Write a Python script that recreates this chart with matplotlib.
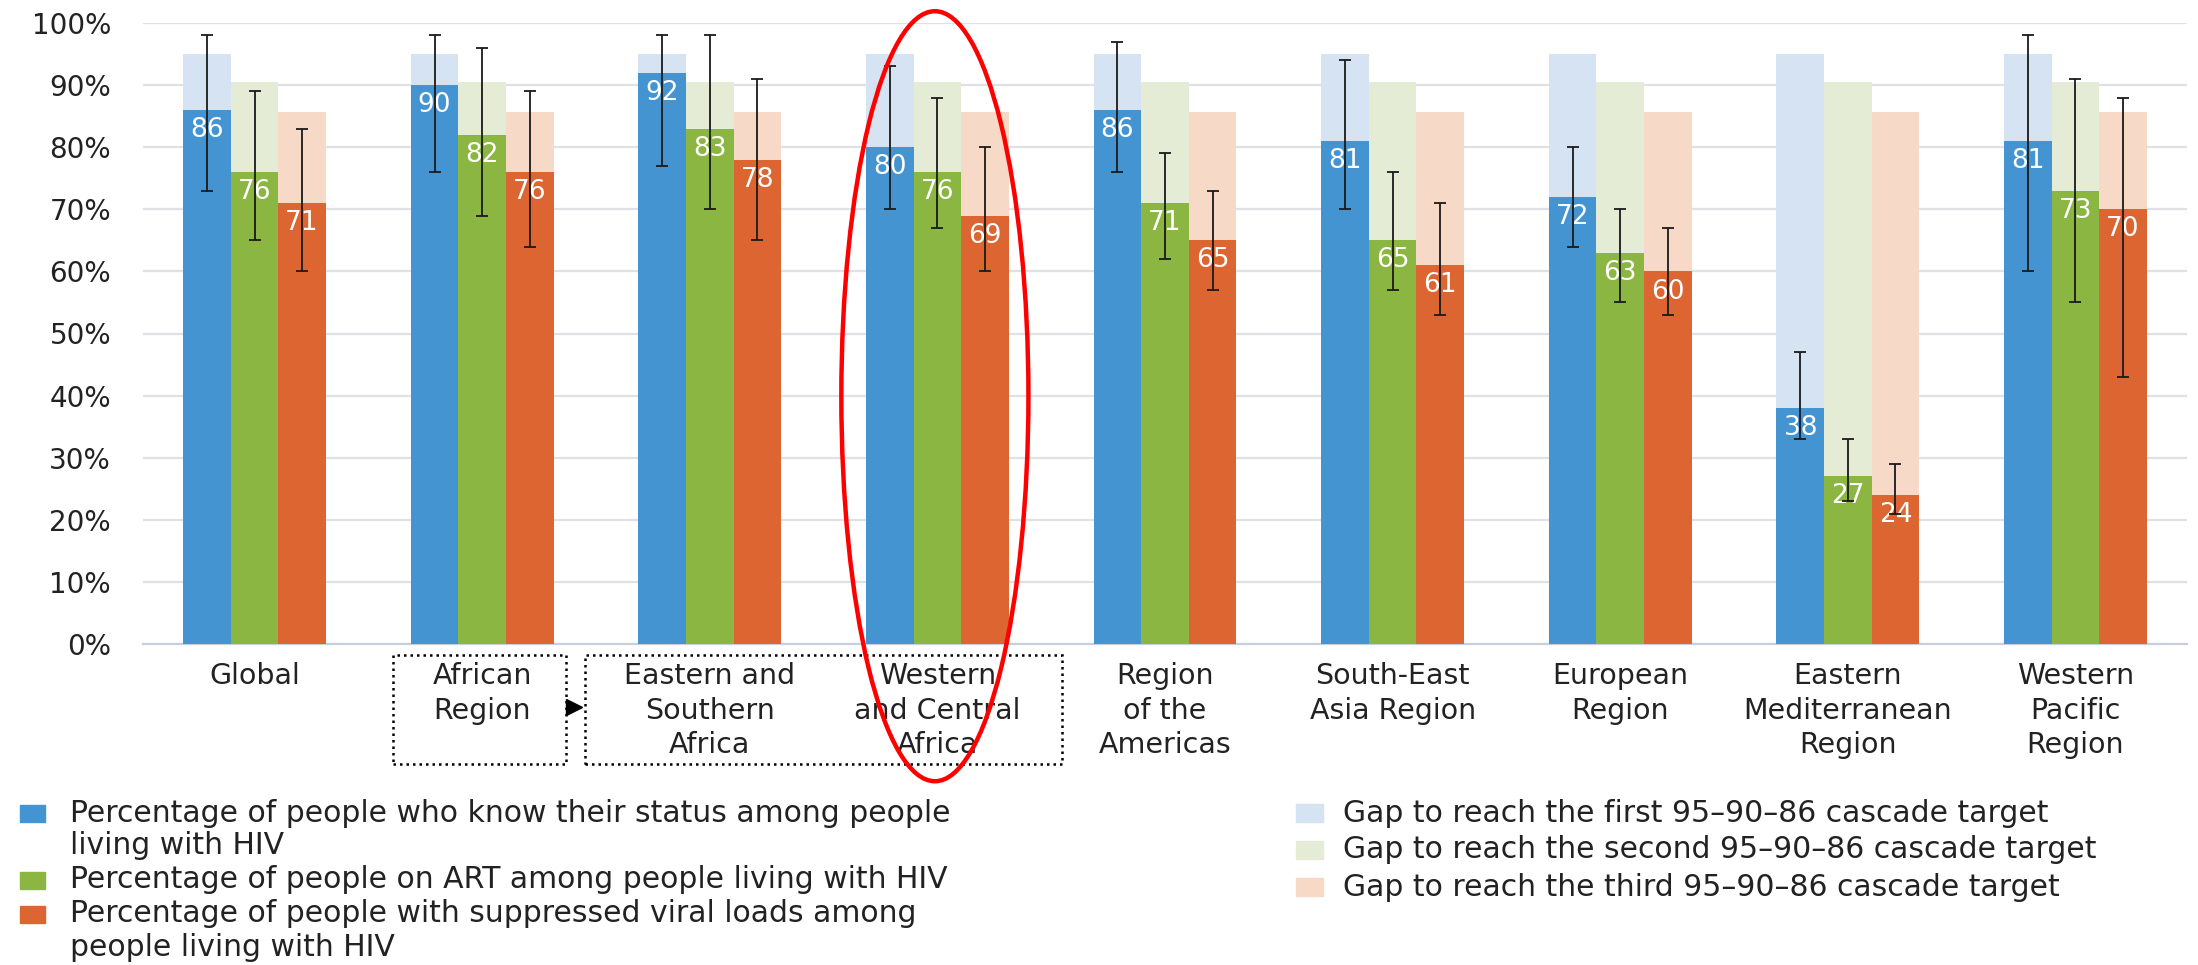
import numpy as np
import matplotlib
matplotlib.use("Agg")
import matplotlib.pyplot as plt
from matplotlib.patches import Rectangle, Ellipse
from matplotlib.transforms import blended_transform_factory

plt.rcParams['font.family'] = ['DejaVu Sans']

# Data
regions = ["Global", "African\nRegion", "Eastern and\nSouthern\nAfrica", "Western\nand Central\nAfrica",
           "Region\nof the\nAmericas", "South-East\nAsia Region", "European\nRegion",
           "Eastern\nMediterranean\nRegion", "Western\nPacific\nRegion"]

know_status = [86, 90, 92, 80, 86, 81, 72, 38, 81]
know_low = [73, 76, 77, 70, 76, 70, 64, 33, 60]
know_high = [98, 98, 98, 93, 97, 94, 80, 47, 98]

on_art = [76, 82, 83, 76, 71, 65, 63, 27, 73]
art_low = [65, 69, 70, 67, 62, 57, 55, 23, 55]
art_high = [89, 96, 98, 88, 79, 76, 70, 33, 91]

suppressed = [71, 76, 78, 69, 65, 61, 60, 24, 70]
supp_low = [60, 64, 65, 60, 57, 53, 53, 21, 43]
supp_high = [83, 89, 91, 80, 73, 71, 67, 29, 88]

targets = [95, 90.5, 85.7]

series_labels = ["Percentage of people who know their status among people\nliving with HIV",
                 "Percentage of people on ART among people living with HIV",
                 "Percentage of people with suppressed viral loads among\npeople living with HIV"]
gap_labels = ["Gap to reach the first 95\u201390\u201386 cascade target",
              "Gap to reach the second 95\u201390\u201386 cascade target",
              "Gap to reach the third 95\u201390\u201386 cascade target"]

colours = ["#4494d2", "#8cb642", "#dc6531"]
light_colours = ["#d5e3f3", "#e5ecd6", "#f6d9c6"]
text_colour = "#222222"

W, H = 2198, 965
fig = plt.figure(figsize=(W / 100, H / 100), dpi=100)
ax = fig.add_axes([143 / W, 1 - 644 / H, (2187 - 143) / W, (644 - 23) / H])


def px(x, y):
    # pixel (from top-left) to figure fraction
    return x / W, 1 - y / H


x = np.arange(len(regions))
width = 0.209
offsets = [-width, 0, width]
values = [know_status, on_art, suppressed]
lows = [know_low, art_low, supp_low]
highs = [know_high, art_high, supp_high]

# Gap bars behind
for i in range(3):
    ax.bar(x + offsets[i], [targets[i]] * len(x), width, color=light_colours[i], zorder=2)

# Actual bars
for i in range(3):
    v = np.array(values[i])
    ax.bar(x + offsets[i], v, width, color=colours[i], zorder=3)
    err = [v - np.array(lows[i]), np.array(highs[i]) - v]
    ax.errorbar(x + offsets[i], v, yerr=err, fmt='none', ecolor="#1a1a1a",
                elinewidth=1.3, capsize=4, capthick=1.3, zorder=5)
    for xi, vi in zip(x + offsets[i], v):
        ax.annotate(str(vi), (xi, vi), xytext=(0, -14.5), textcoords='offset points',
                    ha='center', va='center', color='white', fontsize=19, zorder=4)

# Axes styling
ax.set_ylim(0, 100)
ax.set_xlim(-0.49, len(x) - 1 + 0.49)
ax.set_yticks(np.arange(0, 101, 10))
ax.set_yticklabels([f"{t}%" for t in range(0, 101, 10)], fontsize=20, color=text_colour)
ax.yaxis.grid(True, color="#dfe1e6", linewidth=1.6, zorder=0)
ax.set_axisbelow(True)
for side in ['top', 'right', 'left']:
    ax.spines[side].set_visible(False)
ax.spines['bottom'].set_color("#c9cedf")
ax.spines['bottom'].set_linewidth(1.6)
ax.tick_params(axis='y', length=0, pad=23)
ax.set_xticks(x)
ax.set_xticklabels(regions, fontsize=20.5, color=text_colour, linespacing=1.3)
ax.tick_params(axis='x', length=0, pad=13)

# Dotted boxes around the African sub-regions
trans = blended_transform_factory(ax.transData, ax.transAxes)
box_style = dict(fill=False, edgecolor='black', linestyle=(0, (1, 1.6)), linewidth=1.8,
                 transform=trans, clip_on=False)
ax.add_patch(Rectangle((0.607, -0.1932), 0.76, 0.1755, **box_style))
ax.add_patch(Rectangle((1.451, -0.1932), 2.096, 0.1755, **box_style))
ax.plot([1.405], [-0.1015], marker='>', markersize=12, color='black',
        transform=trans, clip_on=False)

# Red ellipse highlighting Western and Central Africa
ax.add_patch(Ellipse((2.989, 39.9), 0.822, 124, fill=False, edgecolor='#ff0000',
                     linewidth=3.2, clip_on=False, zorder=6))

# Legend, left column
left_rows = [813, 880, 914]
for i, lab in enumerate(series_labels):
    y0 = left_rows[i]
    fx, fy = px(20, y0 + 8.5)
    fig.add_artist(Rectangle((fx, fy), 25 / W, 17 / H, transform=fig.transFigure,
                             color=colours[i]))
    for j, line in enumerate(lab.split("\n")):
        tx, ty = px(70, y0 + 33 * j)
        fig.text(tx, ty, line, ha='left', va='center', fontsize=21.5, color=text_colour)

# Legend, right column
right_rows = [813, 850, 887]
for i, lab in enumerate(gap_labels):
    y0 = right_rows[i]
    fx, fy = px(1296, y0 + 8.5)
    fig.add_artist(Rectangle((fx, fy), 27 / W, 18 / H, transform=fig.transFigure,
                             color=light_colours[i]))
    tx, ty = px(1343, y0)
    fig.text(tx, ty, lab, ha='left', va='center', fontsize=21.5, color=text_colour)

fig.savefig("out.png", dpi=100, facecolor='white')
